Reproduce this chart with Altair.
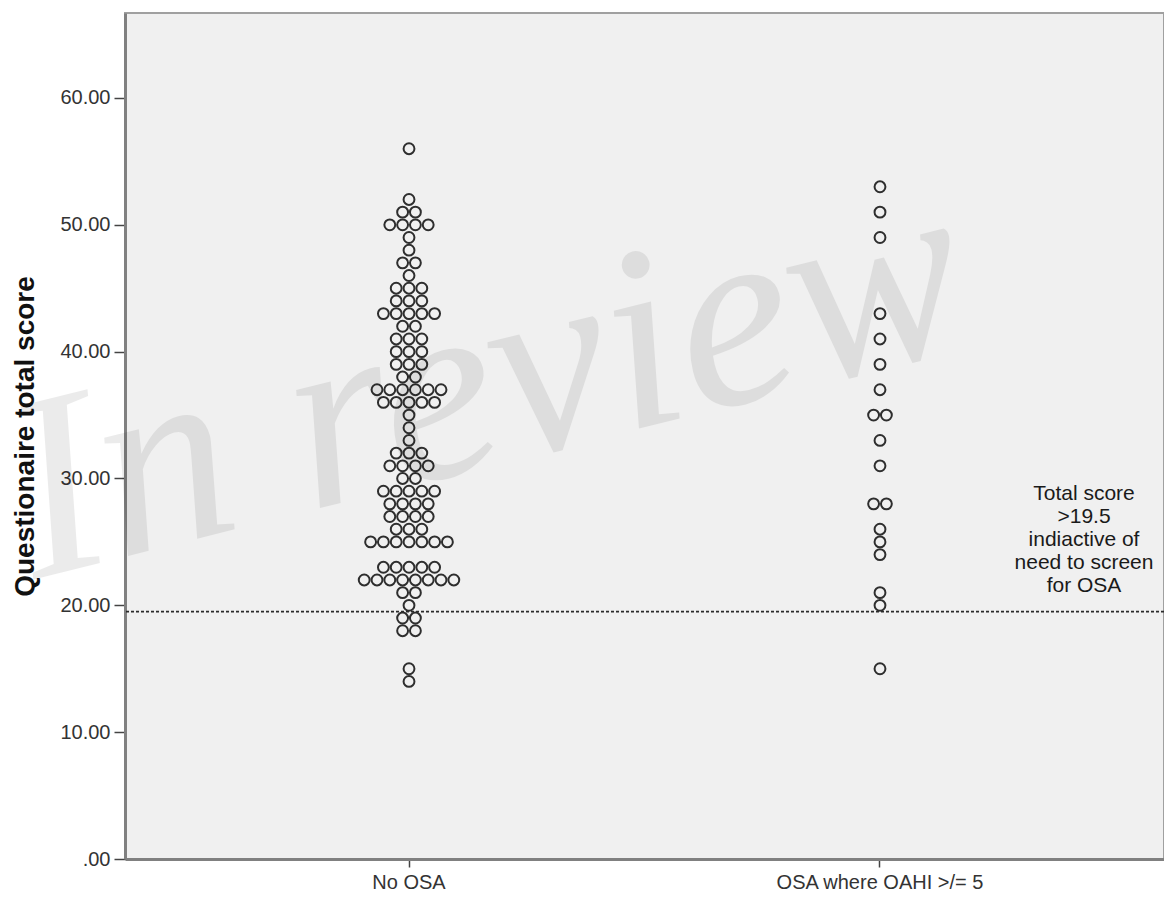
import altair as alt
import pandas as pd

# ---- data ----
groups = ["No OSA", "OSA where OAHI >/= 5"]

no_osa_scores = [56, 52, 51, 50, 49, 48, 47, 46, 45, 44, 43, 42, 41, 40, 39, 38, 37, 36,
                 35, 34, 33, 32, 31, 30, 29, 28, 27, 26, 25, 23, 22, 21, 20, 19, 18, 15, 14]
no_osa_counts = [1, 1, 2, 4, 1, 1, 2, 1, 3, 3, 5, 2, 3, 3, 3, 2, 6, 5,
                 1, 1, 1, 3, 4, 2, 5, 4, 4, 3, 7, 5, 8, 2, 1, 2, 2, 1, 1]

osa_scores = [53, 51, 49, 43, 41, 39, 37, 35, 33, 31, 28, 26, 25, 24, 21, 20, 15]
osa_counts = [1, 1, 1, 1, 1, 1, 1, 2, 1, 1, 2, 1, 1, 1, 1, 1, 1]

threshold = 19.5
y_ticks = [0, 10, 20, 30, 40, 50, 60]
note_lines = ["Total score", ">19.5", "indiactive of", "need to screen", "for OSA"]
watermark = "In review"
y_title = "Questionaire total score"

# ---- one row per dot, with a symmetric slot index within each score row ----
rows = []
for g, scores, counts in [(groups[0], no_osa_scores, no_osa_counts),
                          (groups[1], osa_scores, osa_counts)]:
    for s, n in zip(scores, counts):
        for i in range(n):
            rows.append({"group": g, "score": s, "slot": i - (n - 1) / 2})
df = pd.DataFrame(rows)

W, H = 1039, 846
YMAX = 66.7
PAD_OUTER = 0.103
BAND = W / (2 + 2 * PAD_OUTER)      # band width in px (paddingInner = 0)
DOT_STEP = 12.8                      # px between neighbouring dots
HALF_SLOTS = BAND / DOT_STEP / 2
FONT = "Liberation Sans"

dots = alt.Chart(df).mark_point(
    shape="circle", filled=False, size=118, strokeWidth=2,
    color="#2e2e2e", opacity=1
).encode(
    x=alt.X("group:N", sort=groups,
            scale=alt.Scale(type="band", paddingInner=0, paddingOuter=PAD_OUTER),
            axis=alt.Axis(title=None, labelAngle=0, labelFontSize=20, labelFont=FONT,
                          labelColor="#333333", labelLimit=0, tickSize=8,
                          tickColor="#444444", tickWidth=1.5, labelPadding=5,
                          domainColor="#808080", domainWidth=3, grid=False)),
    xOffset=alt.XOffset("slot:Q",
                        scale=alt.Scale(domain=[-HALF_SLOTS, HALF_SLOTS],
                                        range=[0, BAND], nice=False, zero=False)),
    y=alt.Y("score:Q",
            scale=alt.Scale(domain=[0, YMAX], nice=False, zero=True),
            axis=alt.Axis(values=y_ticks,
                          labelExpr="datum.value == 0 ? '.00' : format(datum.value, '.2f')",
                          title=y_title, titleFontSize=28, titleFontWeight="bold",
                          titleFont=FONT, titleColor="#111111",
                          titleX=-100, titleY=H / 2, titleAngle=270,
                          titleAlign="center", titleBaseline="middle",
                          labelFontSize=20, labelFont=FONT, labelColor="#333333",
                          tickSize=11, tickColor="#444444", tickWidth=1.5,
                          labelPadding=4, domainColor="#808080", domainWidth=3,
                          grid=False)),
)

rule = alt.Chart(pd.DataFrame({"y": [threshold]})).mark_rule(
    strokeDash=[3, 2], color="#2a2a2a", strokeWidth=1.8
).encode(y="y:Q")

note = alt.Chart(pd.DataFrame({"k": [0]})).mark_text(
    text=note_lines, font=FONT, fontSize=21, lineHeight=23,
    align="center", baseline="top", color="#1a1a1a"
).encode(x=alt.value(959), y=alt.value(470))

mark_wm = alt.Chart(pd.DataFrame({"k": [0]})).mark_text(
    text=watermark, font="Liberation Serif", fontStyle="italic", fontSize=262,
    angle=346, align="center", baseline="middle", color="#000000", opacity=0.075
).encode(x=alt.value(362), y=alt.value(372))

chart = alt.layer(rule, dots, note, mark_wm).properties(
    width=W, height=H,
    autosize=alt.AutoSizeParams(type="none"),
    padding={"left": 117, "top": 5, "right": 0, "bottom": 32},
    background="white",
).configure_view(
    fill="#f0f0f0", stroke="#a0a0a0", strokeWidth=2
)

chart.save("out.html", embed_options={"renderer": "svg", "actions": False})
